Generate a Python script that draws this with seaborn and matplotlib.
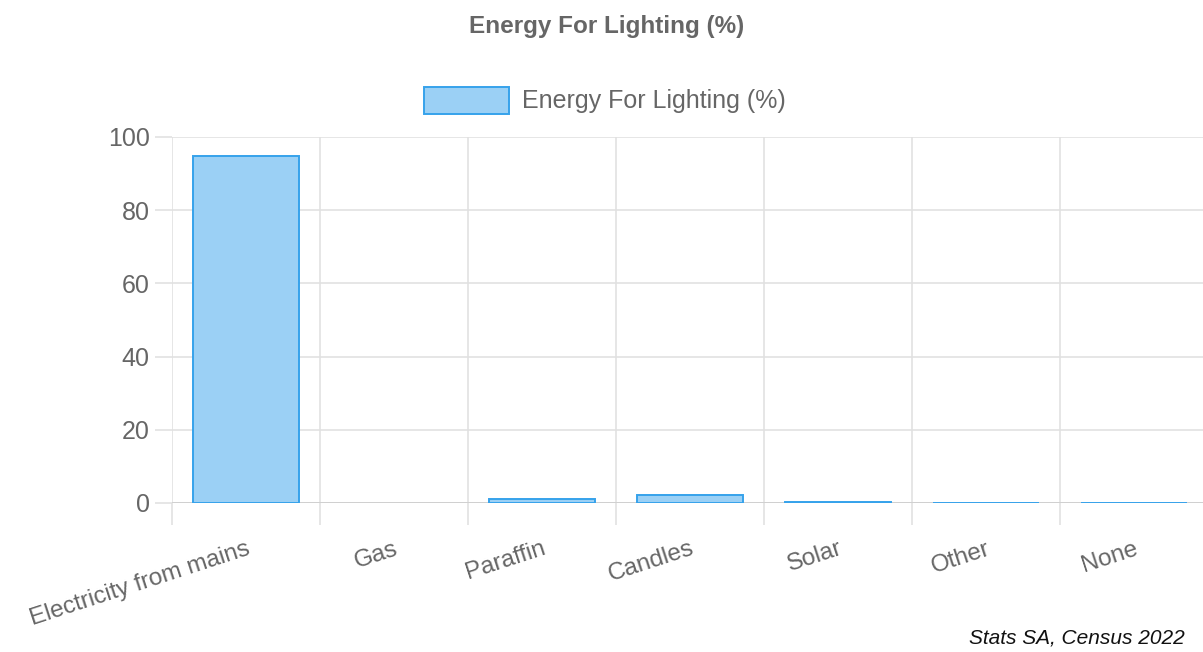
import matplotlib
matplotlib.use("Agg")
import matplotlib.pyplot as plt
from matplotlib.patches import Rectangle
import seaborn as sns
import pandas as pd

categories = ["Electricity from mains", "Gas", "Paraffin", "Candles", "Solar", "Other", "None"]
values = [94.8, 0.0, 1.0, 2.2, 0.4, 0.1, 0.1]
y_ticks = [0, 20, 40, 60, 80, 100]
series_name = "Energy For Lighting (%)"
source_note = "Stats SA, Census 2022"

sns.set_theme(style="white")
plt.rcParams["font.family"] = ["Liberation Sans", "DejaVu Sans"]

fill = "#9BD0F5"
edge = "#36A2EB"
grid_c = "#e1e1e1"
text_c = "#666666"

df = pd.DataFrame({"source": categories, "pct": values})

fig = plt.figure(figsize=(12.03, 6.52), dpi=100)
ax = fig.add_axes([172 / 1203, 1 - 503 / 652, 1036 / 1203, (503 - 137) / 652])

sns.barplot(data=df, x="source", y="pct", ax=ax, color=fill, width=0.72,
            edgecolor=edge, linewidth=1.4, saturation=1)
# zero-height bars draw nothing
for p in ax.patches:
    if p.get_height() == 0:
        p.set_visible(False)

ax.set_xlim(-0.5, len(categories) - 0.5)
ax.set_ylim(0, 100)
ax.set_yticks(y_ticks)
ax.set_yticklabels([str(t) for t in y_ticks], fontsize=18, color=text_c)

# grid lines at category boundaries
for b in [i - 0.5 for i in range(len(categories) + 1)]:
    ax.axvline(b, color=grid_c, lw=1.2, zorder=0)
for t in y_ticks:
    ax.axhline(t, color=grid_c, lw=1.2, zorder=0)
ax.axhline(0, color="#d0d0d0", lw=1.4, zorder=0.5)

# boundary tick marks beneath the axis
ax.set_xticks([i - 0.5 for i in range(len(categories) + 1)], minor=True)
ax.tick_params(axis="x", which="minor", length=16, color=grid_c, width=1.2, bottom=True)
ax.set_xticks(range(len(categories)))
ax.set_xticklabels(categories, rotation=18, ha="right", rotation_mode="anchor",
                   fontsize=17.5, color=text_c)
ax.tick_params(axis="x", which="major", length=0, pad=25)
ax.tick_params(axis="y", length=12, color=grid_c, width=1.2, left=True, pad=4)

for s in ax.spines.values():
    s.set_visible(False)
ax.set_xlabel("")
ax.set_ylabel("")

fig.text(607 / 1203, 1 - 27 / 652, series_name, ha="center", va="center",
         fontsize=17.5, fontweight="bold", color=text_c)

# legend entry
fig.patches.append(Rectangle((424 / 1203, 1 - 114 / 652), 85 / 1203, 27 / 652,
                             transform=fig.transFigure, facecolor=fill,
                             edgecolor=edge, linewidth=1.4))
fig.text(522 / 1203, 1 - 101 / 652, series_name, ha="left", va="center",
         fontsize=18, color=text_c)

fig.text(1185 / 1203, 1 - 638 / 652, source_note, ha="right", va="center",
         fontsize=15, style="italic", color="#111111")

fig.savefig("out.png", dpi=100)
